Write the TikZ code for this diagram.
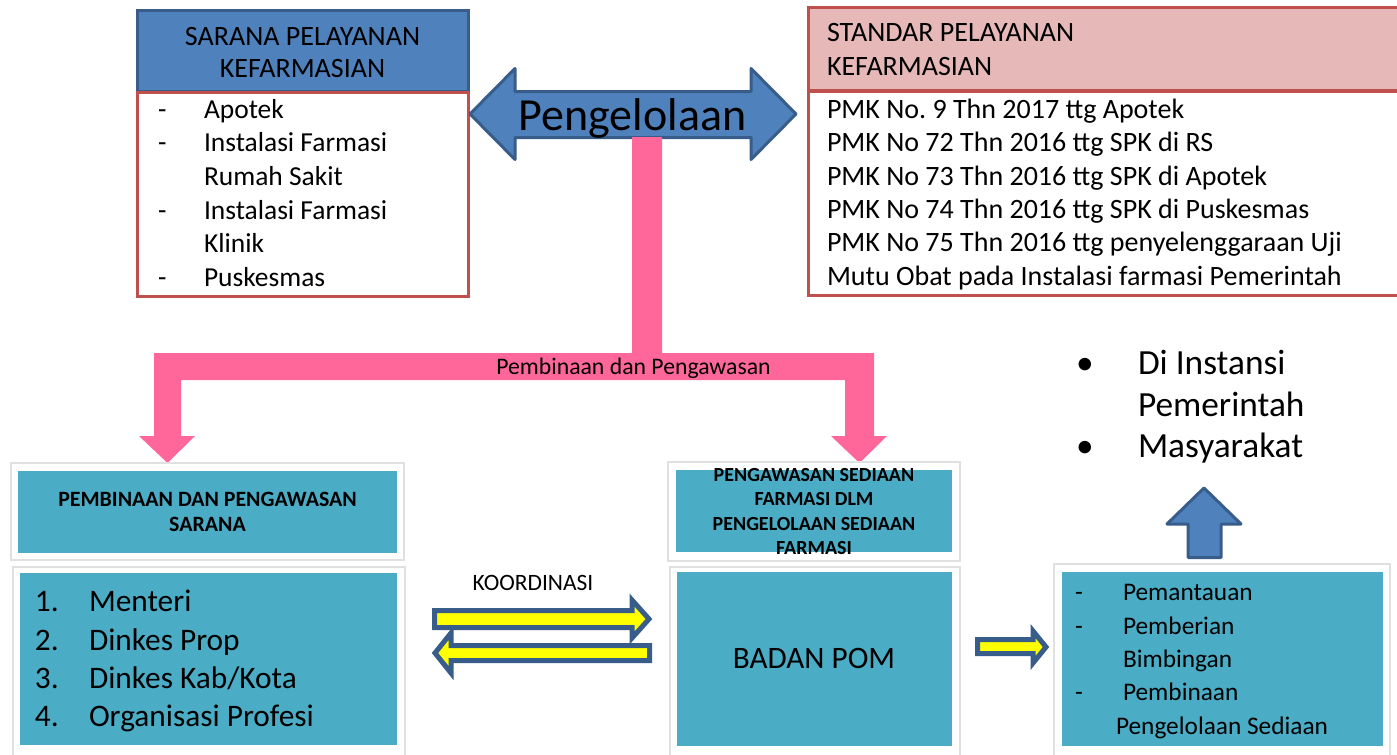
\documentclass[tikz,border=0pt]{standalone}
\usepackage{fontspec}
\setmainfont{Carlito}
\usetikzlibrary{fit}
\definecolor{bfill}{HTML}{4F81BD}
\definecolor{bline}{HTML}{385D8A}
\definecolor{rline}{HTML}{C0504D}
\definecolor{phead}{HTML}{E6B9B8}
\definecolor{pinkarr}{HTML}{FF6699}
\definecolor{tealbox}{HTML}{4BACC6}
\definecolor{yelarr}{HTML}{FFFF00}
\newcommand\setfs[2]{\fontsize{#1}{#2}\selectfont}
\frenchspacing
\begin{document}
\begin{tikzpicture}[x=0.75pt,y=-0.75pt,
  txt/.style={inner sep=0pt,outer sep=0pt,text=black},
  boxfit/.style={inner sep=0pt,outer sep=0pt},
  bluehead/.style={boxfit,fill=bfill,draw=bline,line width=2.25pt},
  redbody/.style={boxfit,fill=white,draw=rline,line width=2.25pt},
  pinkhead/.style={boxfit,fill=phead,draw=rline,line width=2.25pt},
  frame/.style={boxfit,fill=white,draw=black!12,line width=1pt},
  tealrect/.style={boxfit,fill=tealbox},
  blockblue/.style={draw=bline,fill=bfill,line width=2.25pt,line join=round},
  blockyel/.style={draw=bline,fill=yelarr,line width=3.75pt,line join=miter},
  toplist/.style={txt,anchor=base west,font=\setfs{20.6}{25}},
  stdlist/.style={txt,anchor=base west,font=\setfs{21}{25}},
  bllist/.style={txt,anchor=base west,font=\setfs{23.5}{28}},
  rlist/.style={txt,anchor=base west,font=\setfs{19}{25}},
  bull/.style={txt,anchor=base west,font=\setfs{26.5}{32}}]
\clip (0,0) rectangle (1397,754);
\fill[white] (0,0) rectangle (1397,754);

% ---------- top-left box
\node[bluehead,fit={(137,10)(468,91)}] (sarH) {};
\node[redbody,fit={(137,92)(468,296)}] (sarB) {};
\node[txt,anchor=base,font=\setfs{21}{24}] (sarT1) at (302.5,45) {SARANA PELAYANAN};
\node[txt,anchor=base,font=\setfs{21}{24}] (sarT2) at (302.5,77) {KEFARMASIAN};
\node[toplist] (d1) at (158,118.3) {-};
\node[toplist] (s1) at (204,118.3) {Apotek};
\node[toplist] (d2) at (158,151.9) {-};
\node[toplist] (s2) at (204,151.9) {Instalasi Farmasi};
\node[toplist] (s3) at (204,185.5) {Rumah Sakit};
\node[toplist] (d4) at (158,219.1) {-};
\node[toplist] (s4) at (204,219.1) {Instalasi Farmasi};
\node[toplist] (s5) at (204,252.7) {Klinik};
\node[toplist] (d6) at (158,286.3) {-};
\node[toplist] (s6) at (204,286.3) {Puskesmas};

% ---------- top-right box
\node[pinkhead,fit={(808,7)(1420,90)}] (stdH) {};
\node[redbody,fit={(808,91)(1420,295)}] (stdB) {};
\node[stdlist] (stdT1) at (827,41.7) {STANDAR PELAYANAN};
\node[stdlist] (stdT2) at (827,75) {KEFARMASIAN};
\node[stdlist] (p1) at (827,118.3) {PMK No. 9 Thn 2017 ttg Apotek};
\node[stdlist] (p2) at (827,151.7) {PMK No 72 Thn 2016 ttg SPK di RS};
\node[stdlist] (p3) at (827,185) {PMK No 73 Thn 2016 ttg SPK di Apotek};
\node[stdlist] (p4) at (827,218.3) {PMK No 74 Thn 2016 ttg SPK di Puskesmas};
\node[stdlist] (p5) at (827,251.7) {PMK No 75 Thn 2016 ttg penyelenggaraan Uji};
\node[stdlist] (p6) at (827,285.5) {Mutu Obat pada Instalasi farmasi Pemerintah};

% ---------- Pengelolaan double arrow
\draw[blockblue] (470,114) -- (515,68.5) -- (515,91.5) -- (751,91.5) -- (751,68.5)
  -- (796,114) -- (751,159.5) -- (751,137.5) -- (515,137.5) -- (515,159.5) -- cycle;

% ---------- pink connector
\fill[pinkarr] (632,137) -- (662,137) -- (662,353) -- (874,353) -- (874,436) -- (887,436)
  -- (859.5,463) -- (831,436) -- (845,436) -- (845,380) -- (181,380) -- (181,436)
  -- (195,436) -- (167.5,463) -- (139,436) -- (154,436) -- (154,353) -- (632,353) -- cycle;
\node[txt,anchor=base,font=\setfs{34.5}{40}] (peng) at (632.5,130) {Pengelolaan};
\node[txt,anchor=base,font=\setfs{17.8}{21}] (pembLbl) at (633.5,374) {Pembinaan dan Pengawasan};

% ---------- bottom-left boxes
\node[frame,fit={(11,463)(404,560)}] (blHf) {};
\node[tealrect,fit={(18,471)(397,553)}] (blH) {};
\node[txt,anchor=base,font=\bfseries\setfs{16.4}{20}] (blHt1) at (207.5,506) {PEMBINAAN DAN PENGAWASAN};
\node[txt,anchor=base,font=\bfseries\setfs{16.4}{20}] (blHt2) at (207.5,531.7) {SARANA};
\node[frame,fit={(13,567)(405,760)}] (blLf) {};
\node[tealrect,fit={(20,573)(397,745)}] (blL) {};
\node[bllist] (n1) at (35,611.7) {1.};
\node[bllist] (m1) at (89,611.7) {Menteri};
\node[bllist] (n2) at (35,650) {2.};
\node[bllist] (m2) at (89,650) {Dinkes Prop};
\node[bllist] (n3) at (35,688.3) {3.};
\node[bllist] (m3) at (89,688.3) {Dinkes Kab/Kota};
\node[bllist] (n4) at (35,726.7) {4.};
\node[bllist] (m4) at (89,726.7) {Organisasi Profesi};

% ---------- koordinasi arrows
\node[txt,anchor=base,font=\setfs{17.6}{21}] (koord) at (533,590.7) {KOORDINASI};
\draw[blockyel] (434.5,610.5) -- (632,610.5) -- (632,600) -- (649,619) -- (632,638)
  -- (632,627.5) -- (434.5,627.5) -- cycle;
\draw[blockyel] (649.5,645.5) -- (451,645.5) -- (451,633) -- (435,653) -- (451,673)
  -- (451,660.5) -- (649.5,660.5) -- cycle;

% ---------- middle boxes
\node[frame,fit={(668,462)(960,561)}] (mHf) {};
\node[tealrect,fit={(676,470)(952,552)}] (mH) {};
\begin{scope}
\clip (668,455) rectangle (960,555);
\node[txt,anchor=base,font=\bfseries\setfs{15}{18}] (mHt1) at (814,481.7) {PENGAWASAN SEDIAAN};
\node[txt,anchor=base,font=\bfseries\setfs{15}{18}] (mHt2) at (814,505.9) {FARMASI DLM};
\node[txt,anchor=base,font=\bfseries\setfs{15}{18}] (mHt3) at (814,530.1) {PENGELOLAAN SEDIAAN};
\node[txt,anchor=base,font=\bfseries\setfs{15}{18}] (mHt4) at (814,554.3) {FARMASI};
\end{scope}
\node[frame,fit={(670,567)(960,760)}] (mLf) {};
\node[tealrect,fit={(677,572)(952,746)}] (mL) {};
\node[txt,anchor=base,font=\setfs{23.4}{28}] (pom) at (814,668.3) {BADAN POM};

% ---------- small arrow to right box
\draw[blockyel] (977.5,639.5) -- (1033,639.5) -- (1033,631) -- (1046,647) -- (1033,663)
  -- (1033,653.5) -- (977.5,653.5) -- cycle;

% ---------- right box
\node[frame,fit={(1054,564)(1390,760)}] (rBf) {};
\node[tealrect,fit={(1062,572)(1383,746)}] (rB) {};
\node[rlist] (rd1) at (1075,600.7) {-};
\node[rlist] (r1) at (1123,600.7) {Pemantauan};
\node[rlist] (rd2) at (1075,634) {-};
\node[rlist] (r2) at (1123,634) {Pemberian};
\node[rlist] (r3) at (1123,667.3) {Bimbingan};
\node[rlist] (rd4) at (1075,700.7) {-};
\node[rlist] (r4) at (1123,700.7) {Pembinaan};
\node[rlist] (r5) at (1116,734) {Pengelolaan Sediaan};

% ---------- up arrow
\draw[blockblue] (1188,557.5) -- (1188,524) -- (1167,524) -- (1204,488) -- (1241,524)
  -- (1221,524) -- (1221,557.5) -- cycle;

% ---------- bullets
\node[bull] (b1) at (1076,374.5) {•};
\node[bull] (bt1) at (1138,374.5) {Di Instansi};
\node[bull] (bt2) at (1138,416) {Pemerintah};
\node[bull] (b3) at (1076,457) {•};
\node[bull] (bt3) at (1138,457) {Masyarakat};
\end{tikzpicture}
\end{document}
